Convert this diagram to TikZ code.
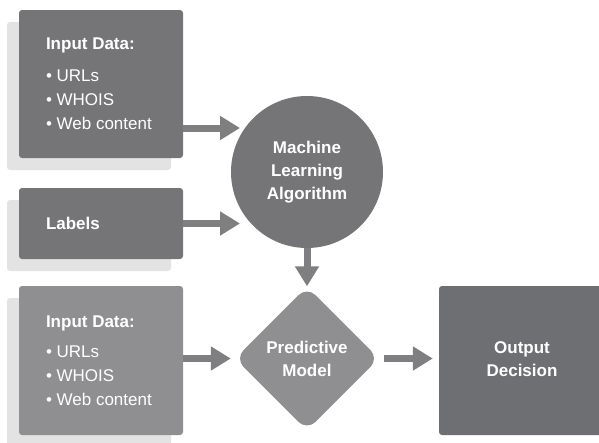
\documentclass[tikz,border=0pt]{standalone}
\usepackage{fontspec}
\setmainfont{Liberation Sans}
\usetikzlibrary{arrows.meta, positioning, shapes.geometric, shadows}

\definecolor{boxgray}{HTML}{757578}
\definecolor{palegray}{HTML}{8F8F91}
\definecolor{outgray}{HTML}{6E6F72}
\definecolor{shadegray}{HTML}{E3E3E3}
\definecolor{arrowgray}{HTML}{7F7F81}

\tikzset{
  inbox/.style={draw=none, rounded corners=3pt, minimum width=164pt,
    general shadow={fill=shadegray, shadow xshift=-12pt, shadow yshift=-12pt}},
  intext/.style={align=left, text=white, anchor=west},
}

\begin{document}
\begin{tikzpicture}[x=1pt, y=-1pt]
                \clip (0,0) rectangle (599,442);
                \begin{scope}[every node/.style={inner sep=0pt, font=\fontsize{17}{24}\selectfont}]
                  \node[inbox, fill=boxgray, minimum height=148pt] (in1) at (101,84) {};
                  \node[inbox, fill=boxgray, minimum height=71pt] (lab) at (101,223.5) {};
                  \node[inbox, fill=palegray, minimum height=149pt] (in3) at (101,360.5) {};
                  \node[intext, right=27pt of in1.west] (in1txt) {\textbf{Input Data:}\\[8pt] \textbullet\ URLs\\ \textbullet\ WHOIS\\ \textbullet\ Web content};
                  \node[intext, right=27pt of lab.west, font=\fontsize{17}{24}\selectfont\bfseries] (labtxt) {Labels};
                  \node[intext, right=27pt of in3.west] (in3txt) {\textbf{Input Data:}\\[6pt] \textbullet\ URLs\\ \textbullet\ WHOIS\\ \textbullet\ Web content};
                  \node[circle, fill=boxgray, minimum size=152pt, align=center, text=white, font=\fontsize{17}{23}\selectfont\bfseries] (ml) at (307,172) {Machine\\Learning\\Algorithm};
                  \node[diamond, aspect=1, fill=palegray, rounded corners=12pt, minimum width=144pt, minimum height=144pt, align=center, text=white, font=\fontsize{17}{23}\selectfont\bfseries] (pred) at (307,358.5) {Predictive\\Model};
                  \node[rectangle, fill=outgray, rounded corners=3pt, minimum width=170pt, minimum height=149pt] (out) at (524,360.5) {};
                  \node[text=white, align=center, font=\fontsize{17}{23}\selectfont\bfseries] (outtxt) at (522,359.5) {Output\\Decision};
                \end{scope}

                \coordinate (t1) at (240,128);
                \coordinate (t2) at (240,223.5);

                \begin{scope}[every edge/.style={draw=arrowgray, line width=7pt, -{Triangle[length=20pt, width=23pt]}}]
                  \path (in1.east |- t1) edge (t1);
                  \path (lab.east) edge (t2);
                  \path (in3.east |- pred) edge[shorten >=4pt] (pred.west);
                  \path (ml.south) edge (ml.south |- pred.north);
                  \path (pred.east) edge[shorten <=5pt, shorten >=6pt] (pred.east -| out.west);
                \end{scope}
              \end{tikzpicture}
\end{document}
